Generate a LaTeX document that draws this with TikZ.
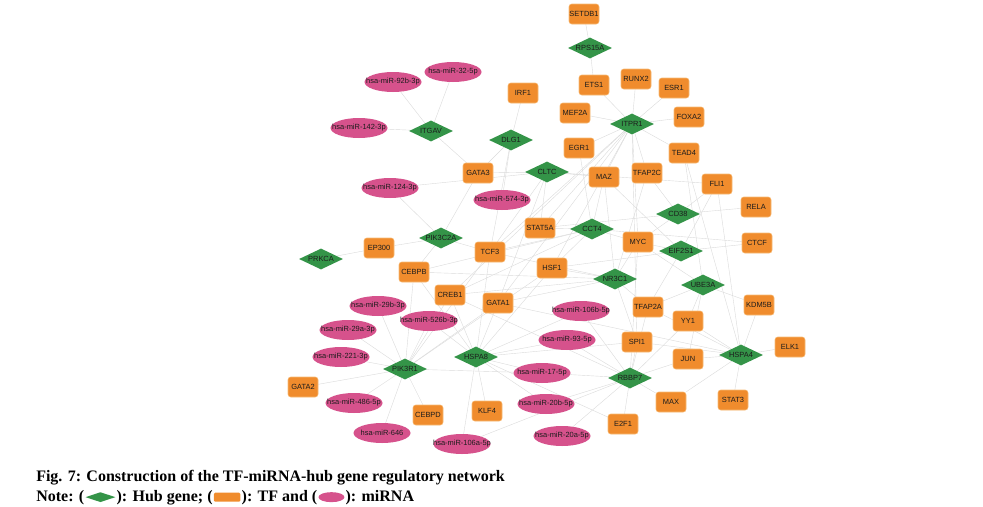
\documentclass[tikz,border=0pt]{standalone}
\usepackage{fontspec}
\setmainfont{Liberation Serif}
\newfontfamily\genefont{Liberation Sans}
\usepackage{tikz}
\usetikzlibrary{shapes.geometric, positioning, backgrounds}
\definecolor{hubgreen}{RGB}{52,148,72}
\definecolor{tforange}{RGB}{240,140,45}
\definecolor{tfborder}{RGB}{246,186,118}
\definecolor{mirpink}{RGB}{214,82,140}
\definecolor{linkgray}{RGB}{218,218,218}
\definecolor{genetext}{RGB}{28,28,28}
\tikzset{
    x=0.75pt, y=-0.75pt, % one unit is one pixel of the figure, y runs downwards
    every node/.style={font=\genefont\fontsize{5.6}{6.5}\selectfont, text=genetext},
    hub/.style={diamond, aspect=2.1, fill=hubgreen, inner sep=0pt, minimum width=33pt, minimum height=15.75pt}, % hub genes
    tf/.style={rectangle, rounded corners=2pt, fill=tforange, draw=tfborder, line width=0.4pt, inner sep=0pt, minimum width=22.5pt, minimum height=15pt}, % transcription factors
    mirna/.style={ellipse, fill=mirpink, inner sep=0pt, minimum width=42.75pt, minimum height=15pt, label={center:#1}}, % miRNAs, the name sits inside
    every edge/.style={draw=linkgray, line width=0.3pt}, % the grey links
    captext/.style={font=\rmfamily\bfseries\fontsize{12}{14}\selectfont, text=black, inner sep=0pt, anchor=base west},
    keyhub/.style={hub, minimum width=22.5pt, minimum height=7.5pt},
    keytf/.style={rectangle, rounded corners=1pt, fill=tforange, inner sep=0pt, minimum width=20pt, minimum height=6.75pt},
    keymir/.style={ellipse, fill=mirpink, inner sep=0pt, minimum width=19.5pt, minimum height=7.5pt},
    }

\begin{document}
\begin{tikzpicture}
\useasboundingbox (0,0) rectangle (983,507);

% hub genes
\node[hub] (RPS15A) at (590,48) {RPS15A};
\node[hub] (ITPR1) at (632,124) {ITPR1};
\node[hub] (ITGAV) at (431,131) {ITGAV};
\node[hub] (DLG1) at (511,140) {DLG1};
\node[hub] (CLTC) at (547,172) {CLTC};
\node[hub] (CD38) at (678,214) {CD38};
\node[hub] (PIK3C2A) at (441,238) {PIK3C2A};
\node[hub] (CCT4) at (592,229) {CCT4};
\node[hub] (PRKCA) at (321,259) {PRKCA};
\node[hub] (EIF2S1) at (681,251) {EIF2S1};
\node[hub] (NR3C1) at (615,279) {NR3C1};
\node[hub] (UBE3A) at (703,285) {UBE3A};
\node[hub] (HSPA8) at (476,357) {HSPA8};
\node[hub] (PIK3R1) at (405,369) {PIK3R1};
\node[hub] (HSPA4) at (741,355) {HSPA4};
\node[hub] (RBBP7) at (630,378) {RBBP7};

% TFs
\node[tf] (SETDB1) at (584,14) {SETDB1};
\node[tf] (ETS1) at (594,85) {ETS1};
\node[tf] (RUNX2) at (636,79) {RUNX2};
\node[tf] (ESR1) at (674,88) {ESR1};
\node[tf] (IRF1) at (523,93) {IRF1};
\node[tf] (MEF2A) at (575,113) {MEF2A};
\node[tf] (FOXA2) at (689,117) {FOXA2};
\node[tf] (EGR1) at (579,148) {EGR1};
\node[tf] (TEAD4) at (684,153) {TEAD4};
\node[tf] (GATA3) at (478,173) {GATA3};
\node[tf] (MAZ) at (604,177) {MAZ};
\node[tf] (TFAP2C) at (647,173) {TFAP2C};
\node[tf] (FLI1) at (717,184) {FLI1};
\node[tf] (RELA) at (756,207) {RELA};
\node[tf] (STAT5A) at (540,228) {STAT5A};
\node[tf] (MYC) at (638,242) {MYC};
\node[tf] (CTCF) at (757,243) {CTCF};
\node[tf] (EP300) at (379,248) {EP300};
\node[tf] (TCF3) at (490,252) {TCF3};
\node[tf] (CEBPB) at (414,272) {CEBPB};
\node[tf] (HSF1) at (552,268) {HSF1};
\node[tf] (CREB1) at (450,295) {CREB1};
\node[tf] (GATA1) at (498,303) {GATA1};
\node[tf] (TFAP2A) at (648,307) {TFAP2A};
\node[tf] (KDM5B) at (759,305) {KDM5B};
\node[tf] (YY1) at (688,321) {YY1};
\node[tf] (SPI1) at (637,342) {SPI1};
\node[tf] (ELK1) at (790,347) {ELK1};
\node[tf] (JUN) at (688,359) {JUN};
\node[tf] (GATA2) at (303,387) {GATA2};
\node[tf] (CEBPD) at (428,415) {CEBPD};
\node[tf] (KLF4) at (487,411) {KLF4};
\node[tf] (MAX) at (671,402) {MAX};
\node[tf] (STAT3) at (733,400) {STAT3};
\node[tf] (E2F1) at (623,424) {E2F1};

% miRNAs
\node[mirna=hsa-miR-32-5p] (m32) at (453,72) {};
\node[mirna=hsa-miR-92b-3p] (m92b) at (393,82) {};
\node[mirna=hsa-miR-142-3p] (m142) at (359,128) {};
\node[mirna=hsa-miR-124-3p] (m124) at (390,188) {};
\node[mirna=hsa-miR-574-3p] (m574) at (502,200) {};
\node[mirna=hsa-miR-29b-3p] (m29b) at (378,306) {};
\node[mirna=hsa-miR-526b-3p] (m526b) at (429,321) {};
\node[mirna=hsa-miR-29a-3p] (m29a) at (348,330) {};
\node[mirna=hsa-miR-106b-5p] (m106b) at (581,311) {};
\node[mirna=hsa-miR-221-3p] (m221) at (341,357) {};
\node[mirna=hsa-miR-93-5p] (m93) at (567,340) {};
\node[mirna=hsa-miR-17-5p] (m17) at (542,373) {};
\node[mirna=hsa-miR-486-5p] (m486) at (354,403) {};
\node[mirna=hsa-miR-20b-5p] (m20b) at (546,404) {};
\node[mirna=hsa-miR-646] (m646) at (382,433) {};
\node[mirna=hsa-miR-106a-5p] (m106a) at (462,444) {};
\node[mirna=hsa-miR-20a-5p] (m20a) at (562,436) {};

\begin{pgfonlayer}{background}
\draw (RPS15A) edge (SETDB1) edge (ETS1);
\draw (ITPR1) edge (ETS1) edge (RUNX2) edge (ESR1) edge (FOXA2) edge (TEAD4) edge (MEF2A) edge (EGR1) edge (MAZ) edge (TFAP2C) edge (MYC) edge (SPI1) edge (STAT5A) edge (TCF3) edge (HSF1) edge (CREB1) edge (GATA1);
\draw (ITGAV) edge (m92b) edge (m32) edge (m142) edge (GATA3);
\draw (DLG1) edge (IRF1) edge (GATA3) edge (m574) edge (TCF3);
\draw (CLTC) edge (GATA3) edge (MAZ) edge (FLI1) edge (TCF3) edge (STAT5A) edge (GATA1) edge (m124);
\draw (PIK3C2A) edge (m124) edge (EP300) edge (GATA3) edge (CEBPB) edge (TCF3);
\draw (PRKCA) edge (EP300);
\draw (CCT4) edge (STAT5A) edge (MAZ) edge (HSF1) edge (TCF3) edge (MYC) edge (CEBPB) edge (CREB1) edge (EGR1) edge (CTCF);
\draw (CD38) edge (RELA) edge (FLI1) edge (TFAP2C) edge (STAT5A) edge (MYC);
\draw (EIF2S1) edge (CTCF) edge (FLI1) edge (MYC) edge (TFAP2A) edge (HSF1) edge (MAZ);
\draw (NR3C1) edge (HSF1) edge (MYC) edge (TFAP2A) edge (SPI1) edge (CREB1) edge (GATA1) edge (TCF3) edge (CEBPB) edge (MAZ) edge (TFAP2C);
\draw (UBE3A) edge (YY1) edge (KDM5B) edge (TEAD4) edge (JUN) edge (TFAP2A) edge (MYC);
\draw (HSPA8) edge (KLF4) edge (m106a) edge (m526b) edge (GATA1) edge (CREB1) edge (CEBPB) edge (m17) edge (m93) edge (m20b) edge (m106b) edge (TCF3) edge (HSF1) edge (E2F1) edge (SPI1);
\draw (PIK3R1) edge (m29b) edge (m526b) edge (m29a) edge (m221) edge (GATA2) edge (m486) edge (CEBPD) edge (m646) edge (CEBPB) edge (CREB1) edge (GATA1) edge (HSF1) edge (TCF3) edge (m17);
\draw (HSPA4) edge (ELK1) edge (STAT3) edge (KDM5B) edge (YY1) edge (JUN) edge (MAX) edge (SPI1) edge (TFAP2A) edge (FLI1) edge (GATA1) edge (TEAD4);
\draw (RBBP7) edge (SPI1) edge (JUN) edge (MAX) edge (E2F1) edge (m17) edge (m20b) edge (m20a) edge (m93) edge (m106b) edge (TFAP2A) edge (YY1) edge (CREB1) edge (m106a) edge (MYC);
\end{pgfonlayer}

% caption and key
\node[captext] (figline) at (36,481) {Fig. 7: Construction of the TF-miRNA-hub gene regulatory network};
\node[captext] (note) at (36,501) {Note: (};
\node[keyhub, right=0.5pt of note] (keyhub) {};
\node[captext] (notehub) at ([xshift=0.5pt]keyhub.east |- note.base) {): Hub gene; (};
\node[keytf, right=0.5pt of notehub] (keytf) {};
\node[captext] (notetf) at ([xshift=0.5pt]keytf.east |- note.base) {): TF and (};
\node[keymir, right=0.5pt of notetf] (keymir) {};
\node[captext] (notemir) at ([xshift=0.5pt]keymir.east |- note.base) {): miRNA};
\end{tikzpicture}
\end{document}
